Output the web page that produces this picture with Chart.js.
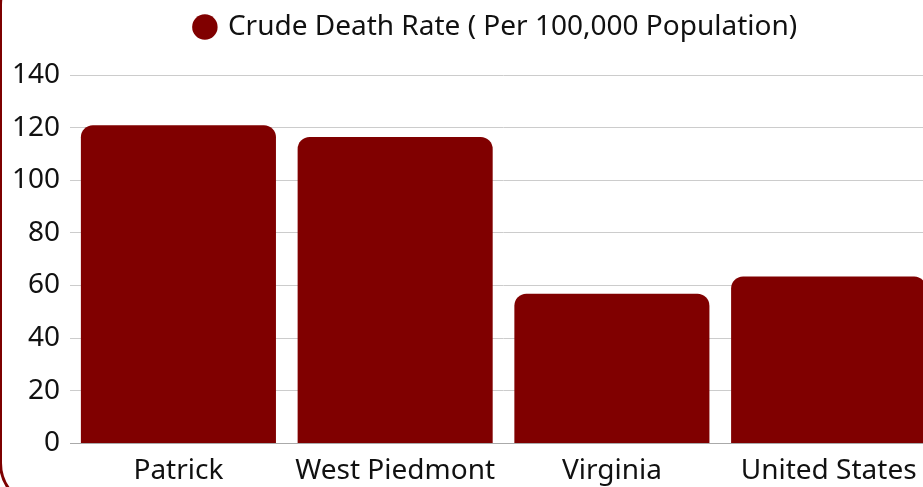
<!DOCTYPE html>
<html>
<head>
<meta charset="utf-8">
<script src="https://cdn.jsdelivr.net/npm/chart.js@4"></script>
<style>
  html, body { margin: 0; padding: 0; background: #fff; overflow: hidden; }
  body { width: 923px; height: 487px; position: relative; }
  .frame {
    position: absolute; left: -1px; top: -40px; width: 980px; height: 548px;
    border: 3px solid #7d0000; border-radius: 45px; box-sizing: border-box;
  }
  .wrap { position: absolute; left: 0; top: 0; width: 940px; height: 500px; }
</style>
</head>
<body>
<div class="frame"></div>
<div class="wrap"><canvas id="deathChart"></canvas></div>
<script>
// Chart data
const categories = ['Patrick', 'West Piedmont', 'Virginia', 'United States'];
const deathRates = [120.9, 116.4, 56.9, 63.4];
const seriesName = 'Crude Death Rate ( Per 100,000 Population)';
const yTicks = [0, 20, 40, 60, 80, 100, 120, 140];

// Extra space under the legend, and nudge it a bit to the right
const legendSpacer = {
    id: 'legendSpacer',
    beforeInit(chart) {
        const fit = chart.legend.fit;
        chart.legend.fit = function() {
            fit.bind(chart.legend)();
            this.height += 24;
        };
    },
    afterLayout(chart) {
        chart.legend.left += 27;
        chart.legend.right += 27;
    }
};

document.addEventListener('DOMContentLoaded', function() {
    const ctx = document.getElementById('deathChart').getContext('2d');
    Chart.defaults.font.family = '"Noto Sans", sans-serif';
    Chart.defaults.color = '#111';

    new Chart(ctx, {
        type: 'bar',
        data: {
            labels: categories,
            datasets: [{
                label: seriesName,
                data: deathRates,
                backgroundColor: '#800000',
                borderWidth: 0,
                borderRadius: 12,
                barPercentage: 1,
                categoryPercentage: 0.9
            }]
        },
        options: {
            responsive: true,
            maintainAspectRatio: false,
            animation: false,
            layout: { padding: { left: 2, right: 3, top: 3, bottom: 1 } },
            plugins: {
                legend: {
                    display: true,
                    position: 'top',
                    labels: {
                        usePointStyle: true,
                        pointStyle: 'circle',
                        boxWidth: 18,
                        boxHeight: 18,
                        padding: 10,
                        font: { size: 28 }
                    }
                },
                tooltip: { enabled: false }
            },
            scales: {
                y: {
                    min: yTicks[0],
                    max: yTicks[yTicks.length - 1],
                    afterBuildTicks: function(scale) {
                        scale.ticks = yTicks.map(v => ({ value: v }));
                    },
                    border: { display: false },
                    grid: { color: '#cccccc', drawTicks: false },
                    ticks: { padding: 10, font: { size: 28 } }
                },
                x: {
                    border: { display: true, color: '#aaaaaa' },
                    grid: { display: false, drawTicks: false },
                    ticks: { padding: 11, font: { size: 28 }, maxRotation: 0 }
                }
            }
        },
        plugins: [legendSpacer]
    });
});
</script>
</body>
</html>
